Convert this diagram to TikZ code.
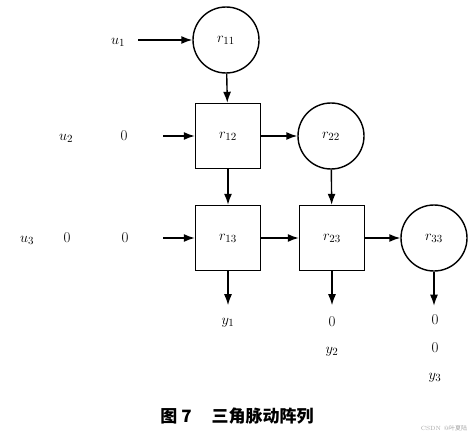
\documentclass[tikz,border=0pt]{standalone}
\usepackage{fontspec}
\newfontfamily\cjk{Noto Sans CJK SC}
\usetikzlibrary{arrows.meta,positioning}

\begin{document}
\begin{tikzpicture}[x=1pt, y=-1pt, font={\fontsize{15}{17}\selectfont}]
	\tikzstyle{cell} = [ draw, circle, line width=1.4pt, minimum size=66pt, inner sep=0pt ];
	\tikzstyle{proc} = [ draw, rectangle, line width=1.4pt, minimum size=65pt, inner sep=0pt ];
	\tikzstyle{info} = [ inner sep=0pt ];
	\tikzstyle{flow} = [ -{Latex[length=11pt, width=8pt]}, line width=1.4pt ];

	\useasboundingbox (0,0) rectangle (474,436);

	% array cells
	\node[cell] (r11) at (226,40)  {$r_{11}$};
	\node[proc] (r12) at (228,136) {$r_{12}$};
	\node[cell] (r22) at (331,136) {$r_{22}$};
	\node[proc] (r13) at (228,238) {$r_{13}$};
	\node[proc] (r23) at (332,238) {$r_{23}$};
	\node[cell] (r33) at (434,238) {$r_{33}$};

	% inputs
	\node[info] (u1) at (118,42) {$u_1$};
	\node[info] (u2) at (66,138) {$u_2$};
	\node[info] (u2a) at (124,136) {0};
	\node[info] (u3) at (27,240) {$u_3$};
	\node[info] (u3a) at (67,238) {0};
	\node[info] (u3b) at (125,238) {0};

	\coordinate (in1) at (138,40);
	\coordinate (in2) at (163,136);
	\coordinate (in3) at (163,238);

	\foreach \a/\b in {in1/r11,in2/r12,in3/r13} {
		\draw[flow] (\a) -- (\b);
	}

	\foreach \a/\b in {r11/r12,r12/r22,r12/r13,r22/r23,r13/r23,r23/r33} {
		\draw[flow] (\a) -- (\b);
	}

	% outputs
	\foreach \n in {r13,r23,r33} {
		\coordinate[below=34pt of \n] (o\n);
		\draw[flow] (\n) -- (o\n);
	}

	\node[info] (y1) at (228,323) {$y_1$};
	\node[info] (y2a) at (332,322) {0};
	\node[info] (y2) at (332,352) {$y_2$};
	\node[info] (y3a) at (435,320) {0};
	\node[info] (y3b) at (435,348) {0};
	\node[info] (y3) at (435,378) {$y_3$};

	\node[info, font={\cjk\bfseries\fontsize{17}{19}\selectfont}] (caption) at (237,416) {图~7\hspace{20pt}三角脉动阵列};
	\node[info, font={\fontsize{6}{7}\selectfont}, text=black!35] (mark) at (444,428) {CSDN @{\cjk 叶夏陆}};
\end{tikzpicture}
\end{document}
